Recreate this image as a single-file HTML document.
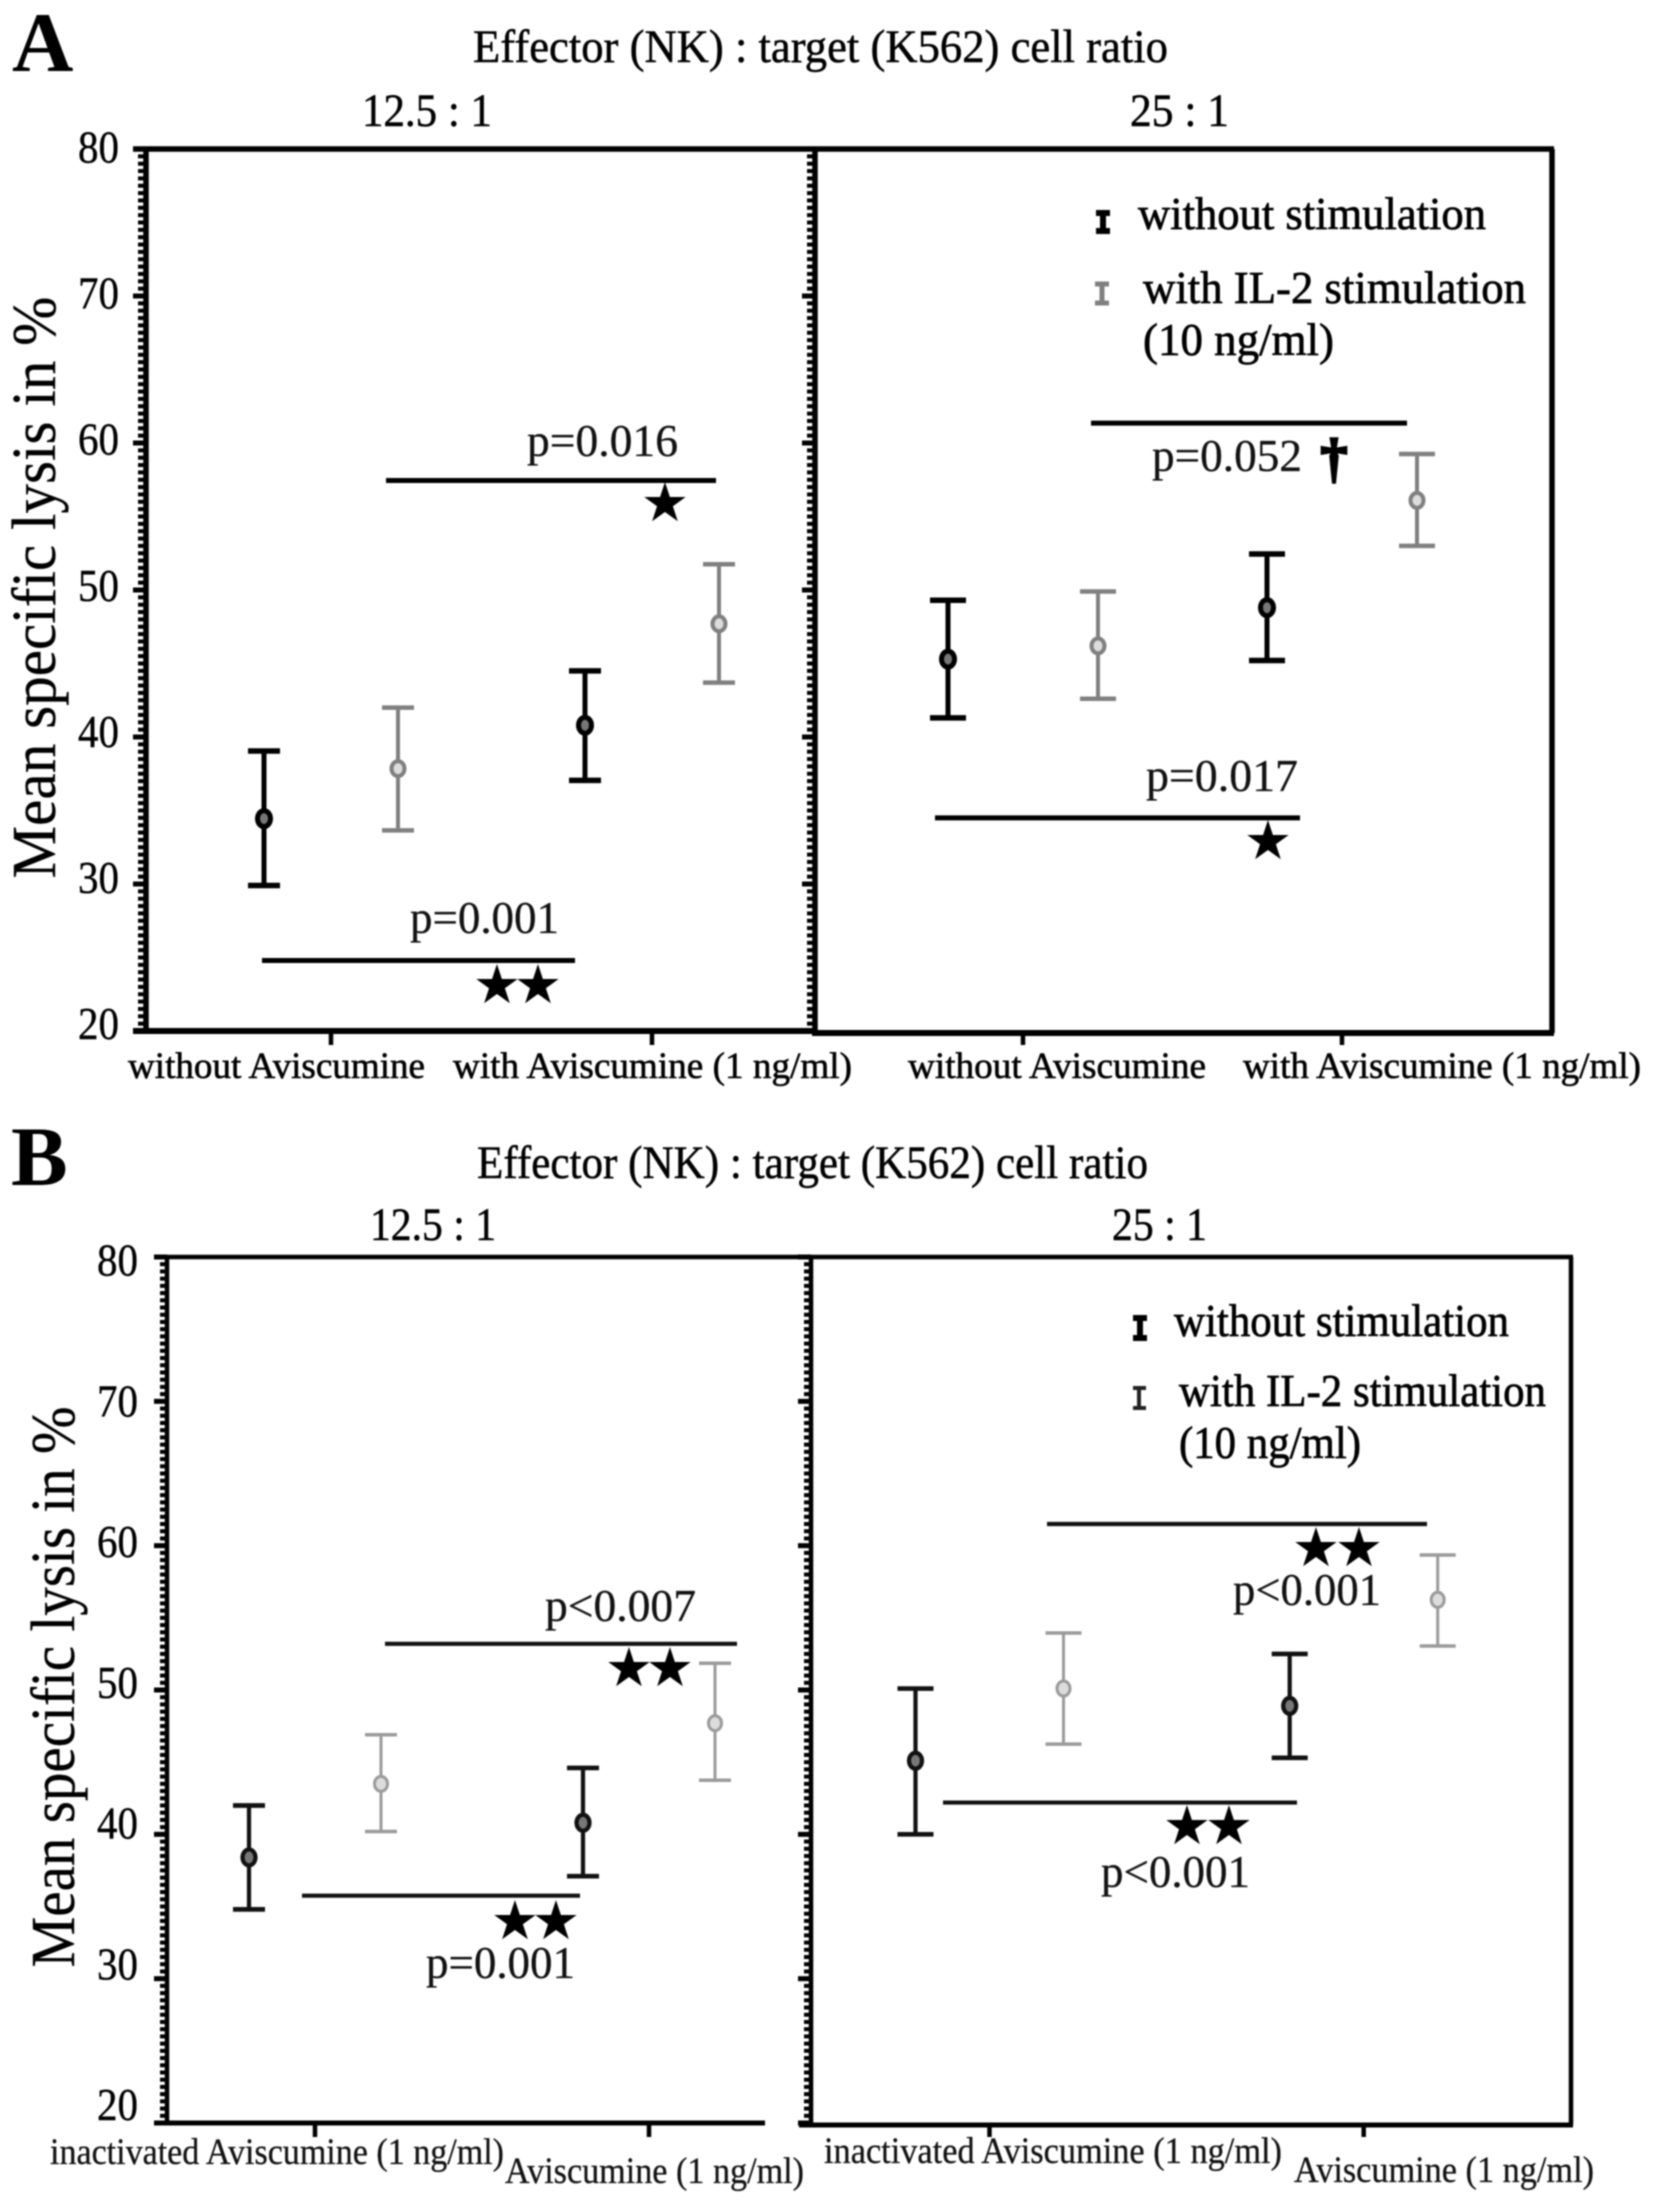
<!DOCTYPE html>
<html lang="en">
<head>
<meta charset="utf-8">
<title>Mean specific lysis chart</title>
<style>
  html, body { margin: 0; padding: 0; background: #fff; }
  svg { display: block; filter: blur(0.8px); }
  text { font-family: "Liberation Serif", serif; fill: #000; }
  .head { font-size: 47px; fill: #000; stroke: #000; stroke-width: .5px; }
  .note { font-size: 46px; fill: #111; stroke: #111; stroke-width: .3px; }
  .leg { font-size: 46px; stroke: #000; stroke-width: .7px; }
  .xlab { font-size: 37px; stroke: #000; stroke-width: .6px; }
  .xlabb { font-size: 37px; fill: #111; stroke: #111; stroke-width: .3px; }
  .ytitle { font-size: 62px; fill: #000; stroke: #000; stroke-width: .3px; }
  .star { font-family: "DejaVu Sans", sans-serif; font-size: 54px; }
  .panel-letter { font-size: 85px; font-weight: bold; }
  .dagger { font-size: 54px; font-weight: bold; stroke: #000; stroke-width: 2.5px; }
  .tick-label { font-size: 46px; stroke: #000; stroke-width: .4px; }
</style>
</head>
<body>
<svg id="chart" width="1654" height="2203" viewBox="0 0 1654 2203" xmlns="http://www.w3.org/2000/svg">
  <rect x="0" y="0" width="1654" height="2203" fill="#fff"/>

  <!-- Panel A text -->
  <text class="panel-letter" x="12" y="71">A</text>
  <text class="head" x="473" y="62" textLength="695" lengthAdjust="spacingAndGlyphs">Effector (NK) : target (K562) cell ratio</text>
  <text class="head" x="362" y="126" textLength="130" lengthAdjust="spacingAndGlyphs">12.5 : 1</text>
  <text class="head" x="1130" y="126" textLength="99" lengthAdjust="spacingAndGlyphs">25 : 1</text>
  <text class="ytitle" transform="translate(55 878.5) rotate(-90)" textLength="582" lengthAdjust="spacingAndGlyphs">Mean specific lysis in %</text>
  <text class="xlab" x="128" y="1078" textLength="297" lengthAdjust="spacingAndGlyphs">without Aviscumine</text>
  <text class="xlab" x="453" y="1078" textLength="399" lengthAdjust="spacingAndGlyphs">with Aviscumine (1 ng/ml)</text>
  <text class="xlab" x="908" y="1078" textLength="298" lengthAdjust="spacingAndGlyphs">without Aviscumine</text>
  <text class="xlab" x="1243" y="1078" textLength="398" lengthAdjust="spacingAndGlyphs">with Aviscumine (1 ng/ml)</text>

  <g>
    <g stroke="#000" fill="none">
      <line x1="1103" y1="212" x2="1103" y2="232" stroke-width="6"/>
      <line x1="1096" y1="213" x2="1110" y2="213" stroke-width="6"/>
      <line x1="1096" y1="231" x2="1110" y2="231" stroke-width="6"/>
    </g>
    <text class="leg" x="1138" y="229" textLength="348" lengthAdjust="spacingAndGlyphs">without stimulation</text>
    <g stroke="#808080" fill="none">
      <line x1="1102" y1="283" x2="1102" y2="304" stroke-width="5"/>
      <line x1="1095" y1="284" x2="1109" y2="284" stroke-width="5"/>
      <line x1="1095" y1="303" x2="1109" y2="303" stroke-width="5"/>
    </g>
    <text class="leg" x="1143" y="303" textLength="383" lengthAdjust="spacingAndGlyphs">with IL-2 stimulation</text>
    <text class="leg" x="1143" y="355" textLength="191" lengthAdjust="spacingAndGlyphs">(10 ng/ml)</text>
  </g>

  <text class="note" x="527" y="456" textLength="151" lengthAdjust="spacingAndGlyphs">p=0.016</text>
  <text class="star" x="665" y="521" text-anchor="middle">★</text>
  <text class="note" x="410" y="933" textLength="149" lengthAdjust="spacingAndGlyphs">p=0.001</text>
  <text class="star" x="497" y="1003" text-anchor="middle">★</text>
  <text class="star" x="538" y="1003" text-anchor="middle">★</text>
  <text class="note" x="1152" y="471" textLength="150" lengthAdjust="spacingAndGlyphs">p=0.052</text>
  <text class="dagger" x="1334" y="476" text-anchor="middle">†</text>
  <text class="note" x="1146" y="791" textLength="152" lengthAdjust="spacingAndGlyphs">p=0.017</text>
  <text class="star" x="1268" y="859" text-anchor="middle">★</text>

  <!-- Panel B text -->
  <text class="panel-letter" x="11" y="1185">B</text>
  <text class="head" x="477" y="1178" textLength="671" lengthAdjust="spacingAndGlyphs">Effector (NK) : target (K562) cell ratio</text>
  <text class="head" x="370" y="1240" textLength="126" lengthAdjust="spacingAndGlyphs">12.5 : 1</text>
  <text class="head" x="1112" y="1240" textLength="95" lengthAdjust="spacingAndGlyphs">25 : 1</text>
  <text class="ytitle" transform="translate(74 1967.5) rotate(-90)" textLength="561" lengthAdjust="spacingAndGlyphs">Mean specific lysis in %</text>
  <text class="xlabb" x="50" y="2164" textLength="454" lengthAdjust="spacingAndGlyphs">inactivated Aviscumine (1 ng/ml)</text>
  <text class="xlabb" x="505" y="2183" textLength="299" lengthAdjust="spacingAndGlyphs">Aviscumine (1 ng/ml)</text>
  <text class="xlabb" x="824" y="2163" textLength="458" lengthAdjust="spacingAndGlyphs">inactivated Aviscumine (1 ng/ml)</text>
  <text class="xlabb" x="1294" y="2182" textLength="300" lengthAdjust="spacingAndGlyphs">Aviscumine (1 ng/ml)</text>

  <g>
    <g stroke="#000" fill="none">
      <line x1="1140" y1="1317" x2="1140" y2="1339" stroke-width="6"/>
      <line x1="1133" y1="1318" x2="1147" y2="1318" stroke-width="6"/>
      <line x1="1133" y1="1338" x2="1147" y2="1338" stroke-width="6"/>
    </g>
    <text class="leg" x="1174" y="1336" textLength="335" lengthAdjust="spacingAndGlyphs">without stimulation</text>
    <g stroke="#222" fill="none">
      <line x1="1139" y1="1388" x2="1139" y2="1408" stroke-width="4"/>
      <line x1="1133" y1="1388" x2="1146" y2="1388" stroke-width="4"/>
      <line x1="1133" y1="1408" x2="1146" y2="1408" stroke-width="4"/>
    </g>
    <text class="leg" x="1179" y="1406" textLength="367" lengthAdjust="spacingAndGlyphs">with IL-2 stimulation</text>
    <text class="leg" x="1179" y="1458" textLength="182" lengthAdjust="spacingAndGlyphs">(10 ng/ml)</text>
  </g>

  <text class="note" x="545" y="1621" textLength="151" lengthAdjust="spacingAndGlyphs">p&lt;0.007</text>
  <text class="star" x="629" y="1686" text-anchor="middle">★</text>
  <text class="star" x="670" y="1686" text-anchor="middle">★</text>
  <text class="star" x="515" y="1939" text-anchor="middle">★</text>
  <text class="star" x="556" y="1939" text-anchor="middle">★</text>
  <text class="note" x="426" y="1978" textLength="149" lengthAdjust="spacingAndGlyphs">p=0.001</text>
  <text class="star" x="1316" y="1566" text-anchor="middle">★</text>
  <text class="star" x="1359" y="1566" text-anchor="middle">★</text>
  <text class="note" x="1233" y="1605" textLength="148" lengthAdjust="spacingAndGlyphs">p&lt;0.001</text>
  <text class="star" x="1187" y="1844" text-anchor="middle">★</text>
  <text class="star" x="1229" y="1844" text-anchor="middle">★</text>
  <text class="note" x="1101" y="1887" textLength="149" lengthAdjust="spacingAndGlyphs">p&lt;0.001</text>

  <g id="plots"></g>
</svg>

<script>
// ---- Data ----
const yTicks = [80, 70, 60, 50, 40, 30, 20];
const yTickLabels = ['80', '70', '60', '50', '40', '30', '20'];
const seriesNames = ['without stimulation', 'with IL-2 stimulation', 'without stimulation', 'with IL-2 stimulation'];

const a12Mean = [34.45, 37.85, 40.8, 47.7];
const a12Upper = [39.05, 42.0, 44.5, 51.75];
const a12Lower = [29.9, 33.65, 37.05, 43.7];
const a12Brackets = [57.45, 24.8];

const a25Mean = [45.3, 46.2, 48.8, 56.1];
const a25Upper = [49.3, 49.9, 52.45, 59.25];
const a25Lower = [41.3, 42.6, 45.2, 53.0];
const a25Brackets = [61.35, 34.5];

const b12Mean = [38.4, 43.5, 40.8, 47.7];
const b12Upper = [42.0, 46.9, 44.6, 51.85];
const b12Lower = [34.8, 40.2, 37.1, 43.75];
const b12Brackets = [53.2, 35.75];

const b25Mean = [45.1, 50.1, 48.9, 56.25];
const b25Upper = [50.1, 53.95, 52.5, 59.35];
const b25Lower = [40.0, 46.25, 45.3, 53.05];
const b25Brackets = [61.5, 42.2];

// ---- Drawing ----
const NS = 'http://www.w3.org/2000/svg';
const root = document.getElementById('plots');

function make(parent, tag, attrs) {
  const node = document.createElementNS(NS, tag);
  for (const key in attrs) node.setAttribute(key, attrs[key]);
  parent.appendChild(node);
  return node;
}

function linear(d0, d1, r0, r1) {
  return function (v) { return r0 + (v - d0) * (r1 - r0) / (d1 - d0); };
}

function drawFigure(fig) {
  const y = linear(80, 20, fig.top, fig.bottom);
  const labelY = linear(80, 20, fig.labelTop, fig.labelBottom);

  const frame = make(root, 'g', { fill: 'none', stroke: fig.axisColor, 'stroke-linecap': 'butt' });
  
  

  const top = make(frame, 'line', { x1: fig.axisL - 13, x2: fig.axisR + 2, y1: fig.top, y2: fig.top, 'stroke-width': fig.frameW });
  
  

  const rightBorder = make(frame, 'line', { x1: fig.axisR, x2: fig.axisR, y1: fig.top, y2: fig.bottom + 2, 'stroke-width': fig.frameW });
  
  

  const bottomLeft = make(frame, 'line', { x1: fig.axisL - 13, x2: fig.baseEnd, y1: fig.bottom, y2: fig.bottom, 'stroke-width': fig.baseW });
  
  

  const bottomRight = make(frame, 'line', { x1: fig.baseStart, x2: fig.axisR + 2, y1: fig.bottom + 2, y2: fig.bottom + 2, 'stroke-width': fig.baseW });
  
  

  [fig.axisL, fig.axisM].forEach(function (axisX) {
    const axisLine = make(frame, 'line', { x1: axisX, x2: axisX, y1: fig.top, y2: fig.bottom, 'stroke-width': fig.frameW });
    
    

    for (let v = 20.5; v < 80; v += 0.5) {
      const minor = make(frame, 'line', { x1: axisX - fig.minorLen, x2: axisX, y1: y(v), y2: y(v), 'stroke-width': fig.minorW });
      
      
    }
    yTicks.forEach(function (t) {
      const major = make(frame, 'line', { x1: axisX - 13, x2: axisX, y1: y(t), y2: y(t), 'stroke-width': 5 });
      
      
    });
  });

  yTicks.forEach(function (t, i) {
    const label = make(root, 'text', { class: 'tick-label', x: fig.labelX, y: labelY(t), textLength: 41, lengthAdjust: 'spacingAndGlyphs' });
    label.textContent = yTickLabels[i];
    
    
  });

  fig.panels.forEach(function (panel) {
    const group = make(root, 'g', {});
    
    

    const groupX = linear(0, 1, panel.tick0, panel.tick1);
    [0, 1].forEach(function (g) {
      const tick = make(group, 'line', { x1: groupX(g), x2: groupX(g), y1: fig.bottom, y2: fig.bottom + 14, stroke: fig.axisColor, 'stroke-width': 4.5 });
      
      
    });

    panel.mean.forEach(function (m, i) {
      const cx = groupX(Math.floor(i / 2)) + (i % 2 ? panel.dodge : -panel.dodge);
      const isGray = i % 2 === 1;
      const color = isGray ? fig.grayColor : fig.darkColor;
      const w = isGray ? fig.grayW : fig.darkW;

      const bar = make(group, 'g', { stroke: color, fill: 'none' });
      
      

      const stem = make(bar, 'line', { x1: cx, x2: cx, y1: y(panel.upper[i]), y2: y(panel.lower[i]), 'stroke-width': w });
      
      

      const capTop = make(bar, 'line', { x1: cx - panel.cap, x2: cx + panel.cap, y1: y(panel.upper[i]), y2: y(panel.upper[i]), 'stroke-width': w + 0.5 });
      
      

      const capBottom = make(bar, 'line', { x1: cx - panel.cap, x2: cx + panel.cap, y1: y(panel.lower[i]), y2: y(panel.lower[i]), 'stroke-width': w + 0.5 });
      
      

      const dot = make(bar, 'ellipse', { cx: cx, cy: y(m), rx: 6.5, ry: isGray ? 7.5 : 8, fill: isGray ? '#dcdcdc' : '#777', 'stroke-width': w });
      
      
    });

    panel.levels.forEach(function (level, i) {
      const span = panel.spans[i];
      const bracket = make(group, 'line', { x1: span[0], x2: span[1], y1: y(level), y2: y(level), stroke: fig.bracketColor, 'stroke-width': fig.bracketW });
      
      
    });
  });
}

drawFigure({
  id: 'panel-a', top: 149, bottom: 1031, labelTop: 162.5, labelBottom: 1039, labelX: 78,
  axisL: 146, axisM: 815, axisR: 1552, baseEnd: 815, baseStart: 812,
  axisColor: '#000', frameW: 5.5, baseW: 6, minorLen: 8, minorW: 4,
  darkColor: '#000', grayColor: '#808080', darkW: 5, grayW: 4, bracketColor: '#000', bracketW: 5,
  panels: [
    { id: 'panel-a-ratio-12-5-plot', tick0: 331, tick1: 652, dodge: 67, cap: 16, mean: a12Mean, upper: a12Upper, lower: a12Lower, levels: a12Brackets, spans: [[386, 716], [262, 575]] },
    { id: 'panel-a-ratio-25-plot', tick0: 1023, tick1: 1342, dodge: 75, cap: 18, mean: a25Mean, upper: a25Upper, lower: a25Lower, levels: a25Brackets, spans: [[1091, 1407], [935, 1300]] }
  ]
});

drawFigure({
  id: 'panel-b', top: 1257, bottom: 2123, labelTop: 1275.6, labelBottom: 2120, labelX: 97,
  axisL: 167, axisM: 811, axisR: 1571, baseEnd: 765, baseStart: 799,
  axisColor: '#000', frameW: 4.5, baseW: 5, minorLen: 7, minorW: 4,
  darkColor: '#111', grayColor: '#9a9a9a', darkW: 4.2, grayW: 3, bracketColor: '#111', bracketW: 4.2,
  panels: [
    { id: 'panel-b-ratio-12-5-plot', tick0: 315, tick1: 649, dodge: 66, cap: 16, mean: b12Mean, upper: b12Upper, lower: b12Lower, levels: b12Brackets, spans: [[385, 737], [302, 580]] },
    { id: 'panel-b-ratio-25-plot', tick0: 989.5, tick1: 1363.7, dodge: 74, cap: 18, mean: b25Mean, upper: b25Upper, lower: b25Lower, levels: b25Brackets, spans: [[1047, 1427], [943, 1297]] }
  ]
});
</script>
</body>
</html>
